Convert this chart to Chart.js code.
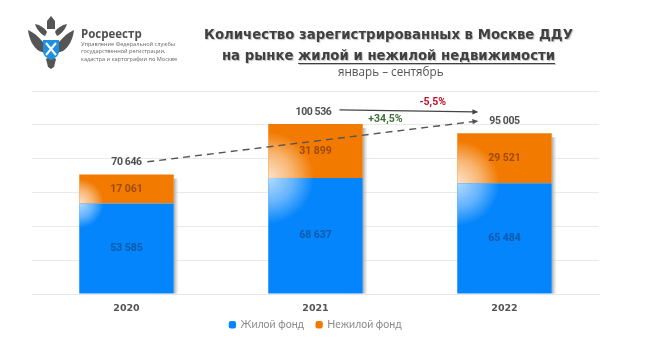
<!DOCTYPE html>
<html lang="ru"><head><meta charset="utf-8">
<script src="https://cdn.jsdelivr.net/npm/chart.js@4"></script>
<style>
html,body{margin:0;padding:0;background:#fff;overflow:hidden}
#wrap{position:relative;width:665px;height:362px}
canvas{position:absolute;left:0;top:0}
.t{position:absolute;white-space:nowrap}
#title{left:0;width:777px;text-align:center;top:25px;font:bold 13.3px/20.5px "DejaVu Sans";color:#404040;text-shadow:1px 1px 1px rgba(0,0,0,.25)}
#title u{text-underline-offset:3px;text-decoration-thickness:1px}
#sub{left:338px;top:64px;font:11.7px/14px "Open Sans";color:#555}
#brand{left:81px;top:26px;font:bold 11.5px/15px "Open Sans";color:#505050}
#org{left:81px;top:41px;font:5.6px/7.3px "Open Sans";color:#666}
svg{position:absolute;left:27px;top:15px;filter:blur(.4px)}
</style></head><body>
<div id="wrap">
<canvas id="c" width="665" height="362"></canvas>
<svg width="48" height="54" viewBox="0 0 48 54">
<g fill="#555">
<path d="M1 15 C6 17 11 21 16 27 L18 38 L12 36 C6 32 2 24 1 15Z"/>
<path d="M47 15 C42 17 37 21 32 27 L30 38 L36 36 C42 32 46 24 47 15Z"/>
<path d="M8 9 C13 10 18 13 20 17 L18 21 C14 19 10 15 8 9Z M40 9 C35 10 30 13 28 17 L30 21 C34 19 38 15 40 9Z"/>
<path d="M20 6 L24 1 L28 6 L28 14 L20 14Z"/>
<path d="M19 44 L24 41 L29 44 L27 52 L24 54 L21 52Z"/>
</g>
<path d="M16 25 L32 25 L32 36 C32 41 28 43 24 45 C20 43 16 41 16 36Z" fill="#1f8fe0"/>
<path d="M19 28 L29 40 M29 28 L19 40" stroke="#fff" stroke-width="2"/>
</svg>
<div class="t" id="brand">Росреестр</div>
<div class="t" id="org">Управление Федеральной службы<br>государственной регистрации,<br>кадастра и картографии по Москве</div>
<div class="t" id="title">Количество зарегистрированных в Москве ДДУ<br>на рынке <u>жилой и нежилой недвижимости</u></div>
<div class="t" id="sub">январь – сентябрь</div>
</div>
<script>
const years = ['2020','2021','2022'];
const residential = [53585,68637,65484];
const nonResidential = [17061,31899,29521];
const totals = [70646,100536,95005];
const totalLabels = ['70 646','100 536','95 005'];
const residentialLabels = ['53 585','68 637','65 484'];
const nonResidentialLabels = ['17 061','31 899','29 521'];
const seriesNames = ['Жилой фонд','Нежилой фонд'];
const trendLine = {from:[0.11,78170],to:[1.862,102300]};
const changeArrow = {from:[1.127,108840],to:[1.862,107650]};
const changeNotes = [
  {text:'-5,5%',at:[1.62,113500],color:'#c0102a'},
  {text:'+34,5%',at:[1.37,103000],color:'#3f6e38'}
];
const numFont = 'bold 10.5px "Roboto"';

function arrow(ctx,x0,y0,x1,y1,color,dash){
  ctx.save();ctx.strokeStyle=color;ctx.fillStyle=color;ctx.lineWidth=1.4;
  ctx.setLineDash(dash);ctx.beginPath();ctx.moveTo(x0,y0);ctx.lineTo(x1-4,y1-(y1-y0)/(x1-x0)*4);ctx.stroke();
  ctx.setLineDash([]);const a=Math.atan2(y1-y0,x1-x0);
  ctx.translate(x1,y1);ctx.rotate(a);ctx.beginPath();ctx.moveTo(0,0);ctx.lineTo(-6,-2.6);ctx.lineTo(-6,2.6);ctx.closePath();ctx.fill();
  ctx.restore();
}
const decor = {
  id:'decor',
  beforeDatasetsDraw(ch){
    const ctx=ch.ctx, m0=ch.getDatasetMeta(0), m1=ch.getDatasetMeta(1);
    m1.data.forEach((b,i)=>{
      const r=b.x+b.width/2, base=m0.data[i].base;
      const g=ctx.createLinearGradient(r,0,r+5,0);
      g.addColorStop(0,'#a8a8a8');g.addColorStop(1,'rgba(200,200,200,0)');
      ctx.fillStyle=g;ctx.fillRect(r,b.y+4,5,base-b.y-4);
    });
  },
  afterDatasetsDraw(ch){
    const ctx=ch.ctx,X=ch.scales.x,Y=ch.scales.y,m0=ch.getDatasetMeta(0),m1=ch.getDatasetMeta(1);
    ctx.save();
    m1.data.forEach((b,i)=>{
      const low=m0.data[i], left=b.x-b.width/2, h=b.base-b.y;
      const R=h*0.85;
      const glow=(top,hh,alpha,rad)=>{
        ctx.save();ctx.beginPath();ctx.rect(left,top,b.width,hh);ctx.clip();
        const g=ctx.createRadialGradient(left,low.y,0,left,low.y,rad);
        g.addColorStop(0,`rgba(255,255,255,${alpha})`);g.addColorStop(.55,`rgba(255,255,255,${alpha*.55})`);g.addColorStop(1,'rgba(255,255,255,0)');
        ctx.fillStyle=g;ctx.fillRect(left,top,b.width,hh);ctx.restore();
      };
      glow(b.y,h,.8,R);
      glow(low.y,low.base-low.y,.7,R);
    });
    ctx.textAlign='center';ctx.textBaseline='middle';ctx.font=numFont;
    m1.data.forEach((b,i)=>{
      const low=m0.data[i];
      ctx.fillStyle='#9c4a0c';ctx.letterSpacing='0px';ctx.fillText(nonResidentialLabels[i],b.x,(b.y+b.base)/2);
      ctx.fillStyle='#0c5aa8';ctx.fillText(residentialLabels[i],low.x,(low.y+low.base)/2);
      ctx.letterSpacing='-0.4px';ctx.fillStyle='#505050';ctx.fillText(totalLabels[i],b.x-(i==1?2:0),Y.getPixelForValue(totals[i])-12);
    });
    ctx.letterSpacing='0px';
    arrow(ctx,X.getPixelForValue(trendLine.from[0]),Y.getPixelForValue(trendLine.from[1]),X.getPixelForValue(trendLine.to[0]),Y.getPixelForValue(trendLine.to[1]),'#555',[7,5]);
    arrow(ctx,X.getPixelForValue(changeArrow.from[0]),Y.getPixelForValue(changeArrow.from[1]),X.getPixelForValue(changeArrow.to[0]),Y.getPixelForValue(changeArrow.to[1]),'#444',[]);
    changeNotes.forEach(n=>{ctx.fillStyle=n.color;ctx.fillText(n.text,X.getPixelForValue(n.at[0]),Y.getPixelForValue(n.at[1]));});
    ctx.restore();
  }
};
new Chart(document.getElementById('c'),{
  type:'bar',
  data:{labels:years,datasets:[
    {label:seriesNames[0],data:residential,backgroundColor:'#0485fb',stack:'s'},
    {label:seriesNames[1],data:nonResidential,backgroundColor:'#f27a00',stack:'s'}
  ]},
  plugins:[decor],
  options:{
    responsive:false,animation:false,
    layout:{padding:{left:32,right:66,top:91,bottom:22}},
    datasets:{bar:{barPercentage:1,categoryPercentage:.5,borderWidth:0}},
    plugins:{
      title:{display:false},tooltip:{enabled:false},
      legend:{position:'bottom',labels:{usePointStyle:true,pointStyle:'rectRounded',boxWidth:6,boxHeight:6,padding:4,color:'#8a8a8a',font:{family:'Lato',size:10.5},
        generateLabels(ch){
          const items=Chart.defaults.plugins.legend.labels.generateLabels(ch);
          items[0].text=items[0].text+'\u00a0\u00a0\u00a0';
          return items;
        }}}
    },
    scales:{
      x:{stacked:true,grid:{display:false},border:{color:'#e6e6e6'},ticks:{color:'#555',font:{family:'DejaVu Sans',size:9.5,weight:'bold'},padding:1}},
      y:{stacked:true,min:0,max:120000,grid:{color:'#e9e9e9',drawTicks:false},border:{display:false},ticks:{display:false,stepSize:20000}}
    }
  }
});
</script>
</body></html>
